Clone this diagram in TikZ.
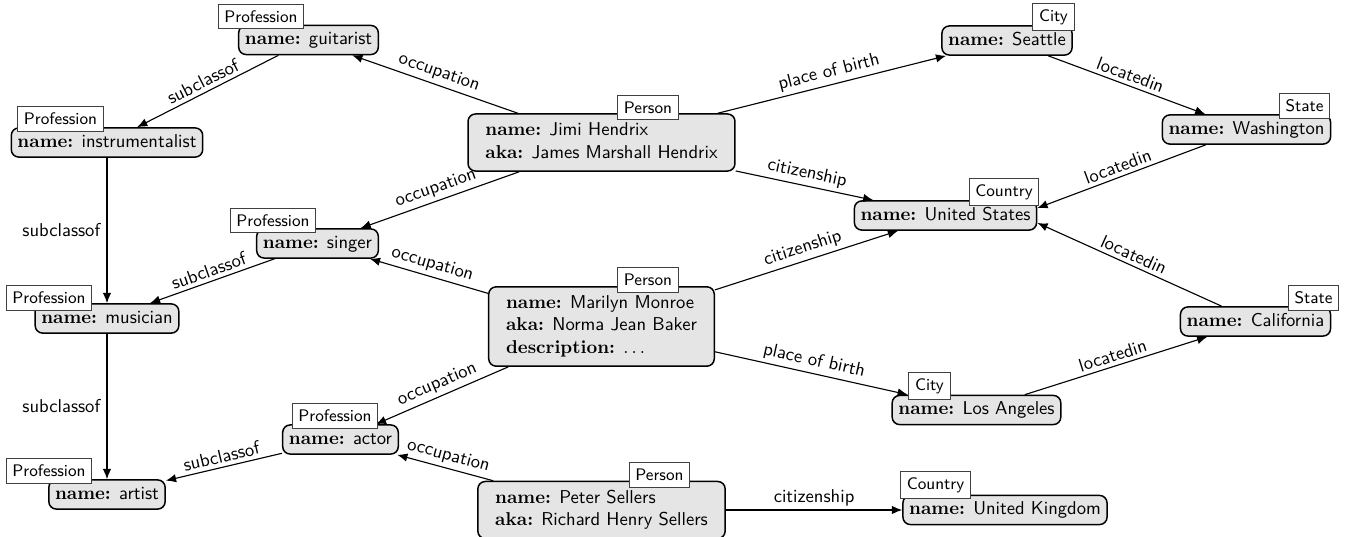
\documentclass[tikz,border=0pt]{standalone}
\usetikzlibrary{arrows.meta}
\renewcommand{\familydefault}{\sfdefault}
\newcommand{\fld}[1]{{\rmfamily\bfseries #1:}}
\begin{document}
\begin{tikzpicture}[x=0.5376pt,y=-0.5376pt,
  ent/.style={draw, thick, fill=gray!20, rounded corners=4pt, inner sep=3.33pt, text height=7pt, text depth=2pt},
  ment/.style={draw, thick, fill=gray!20, rounded corners=4pt, inner sep=3.33pt},
  typ/.style={draw=black!75, fill=white, font=\small, inner sep=3.33pt, line width=0.5pt},
  rel/.style={-{Latex[length=5.5pt,width=4.5pt]}, semithick},
  lab/.style={sloped, above, midway, inner sep=2pt},
  vlab/.style={left, midway}]
\useasboundingbox (0,0) rectangle (1345,537);

% entity nodes
\node[ent] (guitarist) at (308.5,40) {\fld{name} guitarist};
\node[ent] (instr) at (107,142.5) {\fld{name} instrumentalist};
\node[ent] (singer) at (317.5,243.5) {\fld{name} singer};
\node[ent] (musician) at (107,318.5) {\fld{name} musician};
\node[ent] (artist) at (107,494.5) {\fld{name} artist};
\node[ent] (actor) at (340.5,439.5) {\fld{name} actor};
\node[ment] (jimi) at (601.5,142.5) {\begin{tabular}{l}\fld{name} Jimi Hendrix\\ \fld{aka} James Marshall Hendrix\end{tabular}};
\node[ment] (marilyn) at (601.5,326.5) {\begin{tabular}{l}\fld{name} Marilyn Monroe\\ \fld{aka} Norma Jean Baker\\ \fld{description} $\ldots$\end{tabular}};
\node[ment] (peter) at (601.5,510) {\begin{tabular}{l}\fld{name} Peter Sellers\\ \fld{aka} Richard Henry Sellers\end{tabular}};
\node[ent] (seattle) at (1007,40.5) {\fld{name} Seattle};
\node[ent] (washington) at (1246.5,129.5) {\fld{name} Washington};
\node[ent] (us) at (945.5,215.5) {\fld{name} United States};
\node[ent] (california) at (1255.5,321.5) {\fld{name} California};
\node[ent] (la) at (976.5,410) {\fld{name} Los Angeles};
\node[ent] (uk) at (1005,510) {\fld{name} United Kingdom};

% relations
\draw[rel] (jimi) -- node[lab]{occupation} (guitarist);
\draw[rel] (jimi) -- node[lab]{occupation} (singer);
\draw[rel] (jimi) -- node[lab]{place of birth} (seattle);
\draw[rel] (jimi) -- node[lab]{citizenship} (us);
\draw[rel] (guitarist) -- node[lab]{subclassof} (instr);
\draw[rel] (instr) -- node[vlab]{subclassof} (musician);
\draw[rel] (singer) -- node[lab]{subclassof} (musician);
\draw[rel] (musician) -- node[vlab]{subclassof} (artist);
\draw[rel] (marilyn) -- node[lab]{occupation} (singer);
\draw[rel] (marilyn) -- node[lab]{occupation} (actor);
\draw[rel] (marilyn) -- node[lab]{citizenship} (us);
\draw[rel] (marilyn) -- node[lab]{place of birth} (la);
\draw[rel] (actor) -- node[lab]{subclassof} (artist);
\draw[rel] (peter) -- node[lab]{occupation} (actor);
\draw[rel] (peter) -- node[lab]{citizenship} (uk);
\draw[rel] (seattle) -- node[lab]{locatedin} (washington);
\draw[rel] (washington) -- node[lab]{locatedin} ([yshift=4pt]us.east);
\draw[rel] (california) -- node[lab]{locatedin} ([yshift=-4pt]us.east);
\draw[rel] (la) -- node[lab]{locatedin} (california);

% type tags
\node[typ] (guitaristT) at (261,16.5) {Profession};
\node[typ] (instrT) at (60.5,119) {Profession};
\node[typ] (singerT) at (273,220.5) {Profession};
\node[typ] (musicianT) at (49,298) {Profession};
\node[typ] (artistT) at (49,471) {Profession};
\node[typ] (actorT) at (335,416) {Profession};
\node[typ] (jimiT) at (648,107.5) {Person};
\node[typ] (marilynT) at (648,280) {Person};
\node[typ] (peterT) at (659.5,475) {Person};
\node[typ] (seattleT) at (1053.5,17) {City};
\node[typ] (washingtonT) at (1304.5,106) {State};
\node[typ] (usT) at (1004,192) {Country};
\node[typ] (californiaT) at (1313.5,298) {State};
\node[typ] (laT) at (929.5,386) {City};
\node[typ] (ukT) at (935.5,485) {Country};
\end{tikzpicture}
\end{document}
